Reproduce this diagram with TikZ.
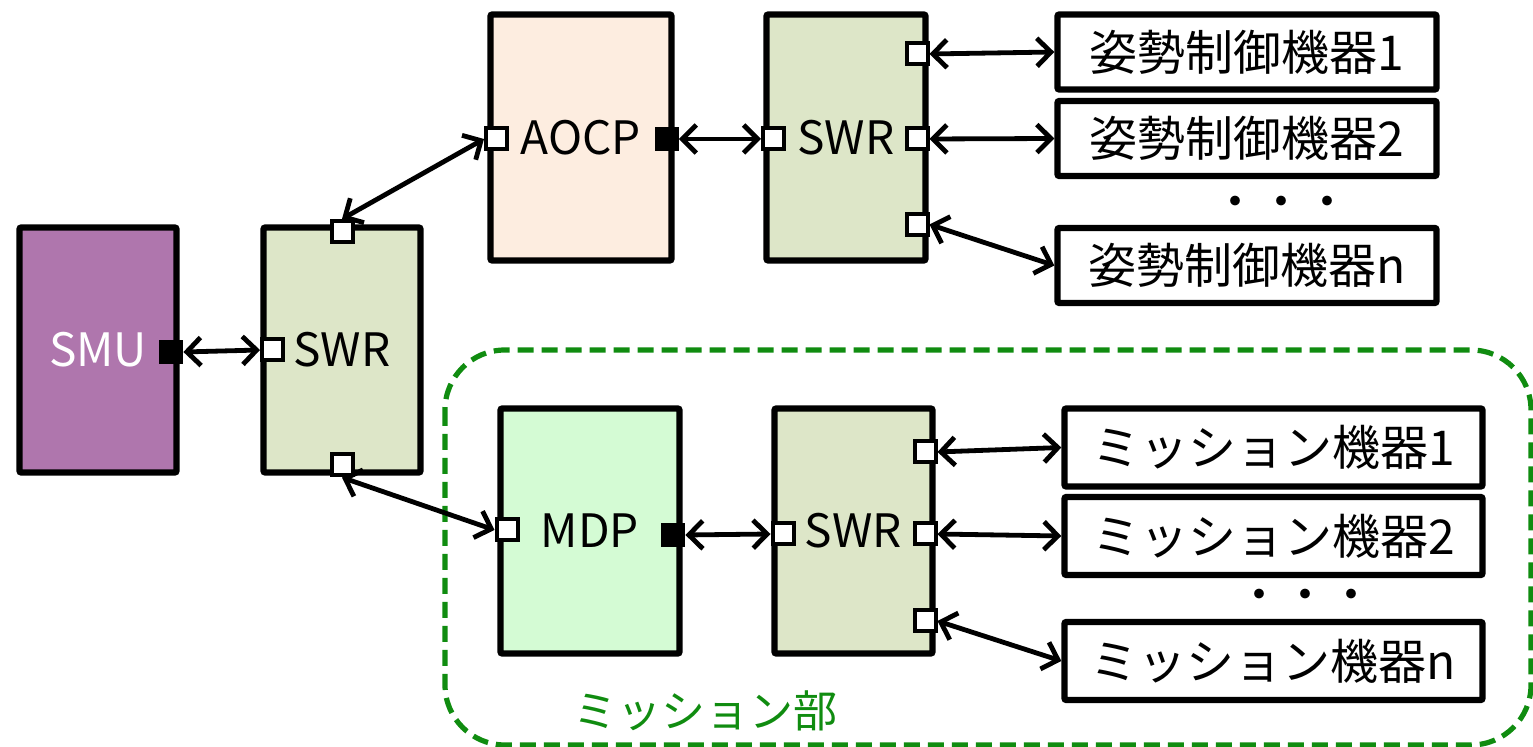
\documentclass[tikz,border=0pt]{standalone}
\usepackage{fontspec}
\setmainfont{Noto Sans CJK JP}
\usetikzlibrary{arrows.meta}
\definecolor{smuC}{RGB}{175,118,173}
\definecolor{swrC}{RGB}{221,230,200}
\definecolor{aocpC}{RGB}{253,237,224}
\definecolor{mdpC}{RGB}{212,251,212}
\definecolor{grn}{RGB}{16,140,16}
\begin{document}
\begin{tikzpicture}[x=0.5pt,y=-0.5pt,
  box/.style={draw=black, line width=3.2pt, rounded corners=1pt, inner sep=0pt,
    font=\fontsize{23}{27}\selectfont},
  tall/.style={minimum height=122.5pt},
  dev/.style={box, fill=white, minimum height=37.5pt, font=\fontsize{24}{28}\selectfont},
  hport/.style={draw=black, fill=white, line width=2pt, minimum size=10.5pt, inner sep=0pt},
  fport/.style={fill=black, minimum size=12pt, inner sep=0pt},
  link/.style={line width=2.4pt, {Straight Barb[length=7pt,width=14pt]}-{Straight Barb[length=7pt,width=14pt]}}
]
\useasboundingbox (0,0) rectangle (1533,747);

% mission area
\draw[grn, line width=2.6pt, dash pattern=on 8pt off 4pt, rounded corners=30pt]
  (445,350) rectangle (1531,745);
\node[text=grn, font=\fontsize{22}{26}\selectfont] (mlabel) at (705,711) {ミッション部};

% main boxes
\node[box, tall, fill=smuC, text=white, minimum width=78.5pt] (smu) at (98,350) {SMU};
\node[box, tall, fill=swrC, minimum width=78.5pt] (swr1) at (342,350) {SWR};
\node[box, fill=aocpC, minimum width=90.5pt, minimum height=123pt] (aocp) at (581,137.5) {AOCP};
\node[box, fill=swrC, minimum width=79.5pt, minimum height=123pt] (swr2) at (846,137.5) {SWR};
\node[box, tall, fill=mdpC, minimum width=89.5pt] (mdp) at (590,531) {MDP};
\node[box, tall, fill=swrC, minimum width=79pt] (swr3) at (853.5,531) {SWR};

% devices top
\node[dev, minimum width=189.5pt] (t1) at (1247,52) {姿勢制御機器1};
\node[dev, minimum width=189.5pt] (t2) at (1247,138.5) {姿勢制御機器2};
\node[dev, minimum width=189.5pt] (tn) at (1247,265.5) {姿勢制御機器n};
\node[font=\fontsize{23}{27}\selectfont] (tdots) at (1281,207) {・・・};

% devices bottom
\node[dev, minimum width=209pt, minimum height=39pt] (b1) at (1273.5,447.5) {ミッション機器1};
\node[dev, minimum width=209pt, minimum height=39pt] (b2) at (1273.5,536) {ミッション機器2};
\node[dev, minimum width=209pt, minimum height=39pt] (bn) at (1273.5,661) {ミッション機器n};
\node[font=\fontsize{23}{27}\selectfont] (bdots) at (1305,600) {・・・};

% ports
\node[fport] (smuP) at (171,352) {};
\node[hport] (s1L) at (272.5,350) {};
\node[hport] (s1T) at (342,231.5) {};
\node[hport] (s1B) at (342,465) {};
\node[hport] (aL) at (496.5,139) {};
\node[fport] (aR) at (666.5,139) {};
\node[hport] (s2L) at (773.5,139) {};
\node[hport] (s2R1) at (917,54) {};
\node[hport] (s2R2) at (917,139) {};
\node[hport] (s2R3) at (917,224.5) {};
\node[hport] (mL) at (507,530) {};
\node[fport] (mR) at (673,535) {};
\node[hport] (s3L) at (783,534) {};
\node[hport] (s3R1) at (925,452) {};
\node[hport] (s3R2) at (925,534) {};
\node[hport] (s3R3) at (925,621) {};

% links
\draw[link] (smuP.east) -- (s1L.west);
\draw[link] (s1T.north) -- (aL.west);
\draw[link] (s1B.south) -- (mL.west);
\draw[link] (aR.east) -- (s2L.west);
\draw[link] (s2R1.east) -- (t1.west);
\draw[link] (s2R2.east) -- (t2.west);
\draw[link] (s2R3.east) -- (tn.west);
\draw[link] (mR.east) -- (s3L.west);
\draw[link] (s3R1.east) -- (b1.west);
\draw[link] (s3R2.east) -- (b2.west);
\draw[link] (s3R3.east) -- (bn.west);
\end{tikzpicture}
\end{document}
